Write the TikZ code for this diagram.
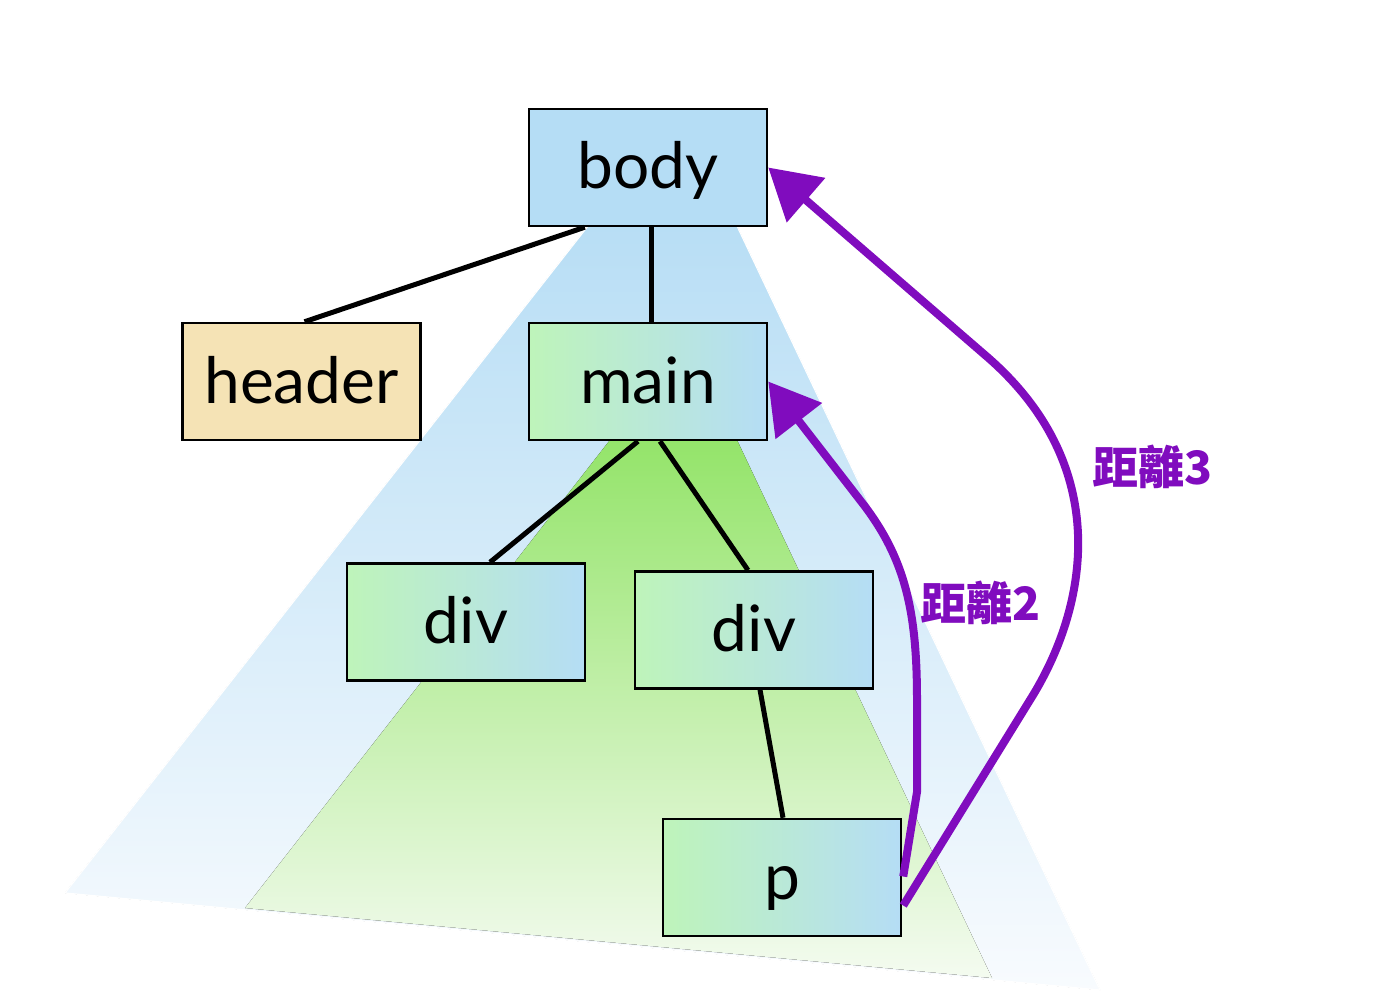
\documentclass[tikz,border=0pt]{standalone}
\usepackage{fontspec}
\setmainfont{Lato}
\newfontfamily\cjk{Noto Sans CJK TC}
\usetikzlibrary{arrows.meta,calc}
\definecolor{bodyblue}{RGB}{181,221,245}
\definecolor{hdr}{RGB}{245,227,181}
\definecolor{lgreen}{RGB}{190,244,186}
\definecolor{purp}{RGB}{128,12,190}
\definecolor{trblue}{RGB}{184,222,245}
\definecolor{trbluelow}{RGB}{248,251,254}
\definecolor{trgreen}{RGB}{148,228,106}
\definecolor{trgreenlow}{RGB}{244,251,240}
\tikzset{
  elem/.style={draw=black, line width=2.5pt, minimum width=238pt, minimum height=117pt, inner sep=0pt, text height=50pt, text depth=7pt, font=\fontsize{64}{64}\selectfont},
  grad/.style={left color=lgreen, right color=bodyblue},
  edge/.style={line width=5pt, black},
  dist/.style={line width=8pt, purp, -{Triangle[length=50pt,width=57pt]}},
  distlabel/.style={purp, font=\cjk\bfseries\fontsize{46}{46}\selectfont}
}
\begin{document}
\begin{tikzpicture}[x=1pt,y=-1pt]
\useasboundingbox (0,0) rectangle (1378,1000);
% background cones
\fill[top color=trblue, bottom color=trbluelow] (588,226) -- (737,226) -- (1100,990) -- (65,893) -- cycle;
\draw[white, line width=1.2pt] (588,226) -- (737,226) -- (1100,990) -- (65,893) -- cycle;
\fill[top color=trgreen, bottom color=trgreenlow] (610,440) -- (737,440) -- (992,978) -- (245,908) -- cycle;
% nodes
\node[elem, fill=bodyblue] (body) at (648,167.5) {body};
\node[elem, fill=hdr] (header) at (301.5,381.5) {header};
\node[elem, grad] (main) at (648,381.5) {main};
\node[elem, grad] (div1) at (466,622) {div};
\node[elem, grad] (div2) at (754,630) {div};
\node[elem, grad] (p) at (782,877.5) {p};
% tree edges
\draw[edge] ($(body.south west)+(57,0)$) -- ($(header.north)+(3,0)$);
\draw[edge] ($(body.south)+(3,0)$) -- ($(main.north)+(3,0)$);
\draw[edge] ($(main.south)+(-10,0)$) -- ($(div1.north)+(24,0)$);
\draw[edge] ($(main.south)+(12,0)$) -- ($(div2.north)+(-6,0)$);
\draw[edge] ($(div2.south)+(6,0)$) -- ($(p.north)+(1,0)$);
% distance arrows
\draw[dist] ($(p.east)+(1,-1)$) -- (917,792) -- (917,700) .. controls (917,610) and (905,557) .. (860,500) -- (main.east);
\draw[dist] ($(p.east)+(1,28)$) -- (1030,700) .. controls (1088,608) and (1115,466) .. (985,355) -- (body.east);
\node[distlabel] (l2) at (980,603) {距離2};
\node[distlabel] (l3) at (1152,467) {距離3};
\end{tikzpicture}
\end{document}
